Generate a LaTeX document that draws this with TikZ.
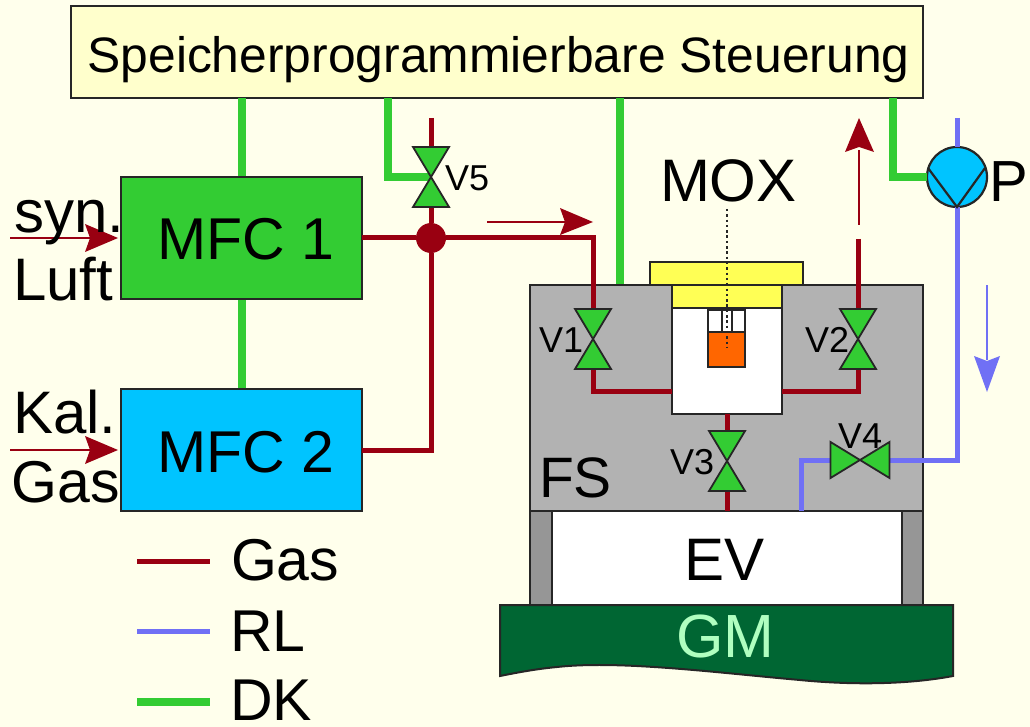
\documentclass[tikz,border=0pt]{standalone}
\usepackage{fontspec}
\setmainfont{Liberation Sans}
\usetikzlibrary{arrows.meta}
\definecolor{bgc}{HTML}{FFFFEC}
\definecolor{plc}{HTML}{FFFFCC}
\definecolor{dkc}{HTML}{33CC33}
\definecolor{gasc}{HTML}{990011}
\definecolor{rlc}{HTML}{7070F5}
\definecolor{cyanc}{HTML}{00C4FF}
\definecolor{fsc}{HTML}{B2B2B2}
\definecolor{pillarc}{HTML}{969696}
\definecolor{yelc}{HTML}{FFFF55}
\definecolor{orc}{HTML}{FF6600}
\definecolor{gmc}{HTML}{006633}
\definecolor{gmt}{HTML}{B0FFC0}
\newcommand{\fs}[1]{\fontsize{#1}{#1}\selectfont}
\tikzset{
  blockbox/.style={draw=black!85,line width=2.2pt,inner sep=0pt,outer sep=0pt,rectangle},
  valvebox/.style={rectangle,inner sep=0pt,outer sep=0pt,minimum width=36pt,minimum height=60pt},
  valvehbox/.style={rectangle,inner sep=0pt,outer sep=0pt,minimum width=59pt,minimum height=36pt},
  valveshape/.style={draw=black!85,line width=1.8pt,fill=dkc,line join=miter},
  gasline/.style={draw=gasc,line width=5pt},
  rlline/.style={draw=rlc,line width=5pt},
  dkline/.style={draw=dkc,line width=7.5pt},
  flowgas/.style={draw=gasc,line width=2.5pt},
  lab/.style={inner sep=0pt,outer sep=0pt,anchor=base west,text=black},
  big/.style={lab,font=\fs{59}},
  mid/.style={lab,font=\fs{60}},
  small/.style={lab,font=\fs{36}},
  gastip/.style={fill=gasc,draw=none},
}
\begin{document}
\begin{tikzpicture}[x=1pt,y=-1pt]
\useasboundingbox (0,0) rectangle (1030,727);
\fill[bgc] (0,0) rectangle (1030,727);

% named anchors for the blocks
\node[blockbox,fill=plc,minimum width=852pt,minimum height=92pt] (plc) at (497,52) {};
\node[font=\fs{49.8},inner sep=0pt,anchor=base] (plctext) at (498.5,73) {Speicherprogrammierbare Steuerung};

% DK lines
\coordinate (mfcA) at (242,177);
\coordinate (mfcB) at (242,299);
\coordinate (mfcC) at (242,389);
\coordinate (plcA) at (242,98);
\coordinate (plcV) at (388,98);
\coordinate (plcF) at (620,98);
\coordinate (fsTop) at (620,285);
\coordinate (plcP) at (893,98);

% blocks below the connectors
\draw[dkline] (plcA) -- (mfcA);
\draw[dkline] (mfcB) -- (mfcC);
\draw[dkline] (plcF) -- (fsTop);

\node[blockbox,fill=fsc,minimum width=393pt,minimum height=226pt] (fs) at (726.5,398) {};
\node[blockbox,fill=white,minimum width=393pt,minimum height=94pt] (ev) at (726.5,558) {};
\fill[pillarc] (530,511) rectangle (552,605);
\fill[pillarc] (902,511) rectangle (923,605);
\draw[black!85,line width=2.2pt] (530,511) rectangle (552,605);
\draw[black!85,line width=2.2pt] (902,511) rectangle (923,605);

% GM
\draw[draw=black!85,line width=2pt,fill=gmc] (500,605) -- (953,605) -- (953,676)
  .. controls (900,686) and (840,684) .. (800,680)
  .. controls (720,673) and (620,660) .. (557,667)
  .. controls (535,669) and (515,673) .. (500,676) -- cycle;
\node[lab,font=\fs{61},text=gmt] (gmtext) at (676,657) {GM};

% chamber
\node[blockbox,fill=yelc,minimum width=153pt,minimum height=23pt] (lid) at (726.5,273.5) {};
\node[blockbox,fill=yelc,minimum width=110pt,minimum height=23pt] (lid2) at (727,296.5) {};
\node[blockbox,fill=white,minimum width=110pt,minimum height=106pt] (chamber) at (727,361) {};
\node[blockbox,fill=white,minimum width=37pt,minimum height=57pt] (tube) at (726.5,338.5) {};
\node[blockbox,fill=orc,minimum width=37pt,minimum height=35pt] (sensor) at (726.5,349.5) {};
\node[blockbox,line width=1.2pt,fill=white,minimum width=10pt,minimum height=22pt] (inner) at (727,321) {};
\coordinate (moxA) at (727,209);
\coordinate (moxB) at (727,347);
\draw[black!85,line width=2.8pt,dash pattern=on 2.5pt off 2.8pt] (moxA) -- (moxB);

% valves
\node[valvebox] (V1) at (593,339) {};
\node[valvebox] (V2) at (858,339) {};
\node[valvebox] (V3) at (727,461) {};
\node[valvebox] (V5) at (431,177) {};
\node[valvehbox] (V4) at (860,460) {};
\node[circle,fill=gasc,minimum size=30pt,inner sep=0pt,outer sep=0pt] (junction) at (431,238) {};
\node[circle,draw=black!85,line width=2.2pt,fill=cyanc,minimum size=60pt,inner sep=0pt,outer sep=0pt] (P) at (957,177) {};

% MFC
\node[blockbox,fill=dkc,minimum width=241pt,minimum height=122pt] (mfc1) at (241.5,238) {};
\node[blockbox,fill=cyanc,minimum width=241pt,minimum height=122pt] (mfc2) at (241.5,450) {};

% gas lines
\coordinate (v5top) at (431,118);
\coordinate (corner1) at (593,238);
\coordinate (v1l) at (593,391);
\coordinate (v2r) at (858,391);
\coordinate (v2stub) at (858,239);
\draw[gasline] (mfc1.east) -- (junction) -- (corner1) -- (V1.north);
\draw[gasline] (mfc2.east) -- (431,450) -- (junction);
\draw[gasline] (junction) -- (V5.south);
\draw[gasline] (v5top) -- (V5.north);
\draw[gasline] (V1.south) -- (v1l) -- (chamber.west |- v1l);
\draw[gasline] (v2stub) -- (V2.north);
\draw[gasline] (V2.south) -- (v2r) -- (chamber.east |- v2r);
\draw[gasline] (chamber.south) -- (V3.north);
\draw[gasline] (V3.south) -- (ev.north -| V3);

% RL lines
\coordinate (ptop) at (957,118);
\coordinate (v4r) at (957,460);
\coordinate (v4l) at (801,460);
\draw[rlline] (ptop) -- (P.north);
\draw[rlline] (P.south) -- (v4r) -- (V4.east);
\draw[rlline] (V4.west) -- (v4l) -- (ev.north -| v4l);

% control lines
\coordinate (c5) at (388,177);
\coordinate (cp) at (893,177);
\draw[dkline] (plcV) -- (c5) -- (V5.center);
\draw[dkline] (plcP) -- (cp) -- (P.west);

% valve bow-ties
\foreach \v in {V1,V2,V3,V5}
  \draw[valveshape] (\v.north west) -- (\v.north east) -- (\v.south west) -- (\v.south east) -- cycle;
\draw[valveshape] (V4.north west) -- (V4.south west) -- (V4.north east) -- (V4.south east) -- cycle;

% pump symbol
\draw[black!85,line width=2.2pt] (928,168) -- (P.south) -- (985,168);

% flow arrows
\coordinate (a1s) at (10,238); \coordinate (a1e) at (90,238);
\coordinate (a2s) at (10,450); \coordinate (a2e) at (90,450);
\coordinate (a3s) at (487,222); \coordinate (a3e) at (565,222);
\coordinate (a4s) at (859,225); \coordinate (a4e) at (859,150);
\coordinate (a5s) at (987,285); \coordinate (a5e) at (987,360);
\draw[flowgas] (a1s) -- (a1e);
\draw[flowgas] (a2s) -- (a2e);
\draw[flowgas] (a3s) -- (a3e);
\draw[flowgas] (a4s) -- (a4e);
\draw[draw=rlc,line width=2.5pt] (a5s) -- (a5e);
\fill[gastip] (118,238) -- (85,224) -- (90,238) -- (85,252) -- cycle;
\fill[gastip] (118,450) -- (85,436) -- (90,450) -- (85,464) -- cycle;
\fill[gastip] (593,222) -- (560,208) -- (565,222) -- (560,235) -- cycle;
\fill[gastip] (859,118) -- (845,152) -- (859,147) -- (874,152) -- cycle;
\fill[rlc] (987,392) -- (974,356) -- (987,361) -- (1000,356) -- cycle;

% texts
\node[big] (t1) at (157,260) {MFC 1};
\node[big] (t2) at (157,472) {MFC 2};
\node[mid] (t3) at (14,233) {syn.};
\node[mid] (t4) at (13,300) {Luft};
\node[mid] (t5) at (13,433) {Kal.};
\node[lab,font=\fs{59}] (t6) at (12,502) {Gas};
\node[lab,font=\fs{60}] (t7) at (660,202) {MOX};
\node[lab,font=\fs{58}] (t8) at (989,202) {P};
\node[lab,font=\fs{57}] (t9) at (539,497) {FS};
\node[lab,font=\fs{60}] (t10) at (684,580) {EV};
\node[small] (v1t) at (539,352) {V1};
\node[small] (v2t) at (805,352) {V2};
\node[small] (v3t) at (670,474) {V3};
\node[small] (v4t) at (838,448) {V4};
\node[small] (v5t) at (445,191) {V5};

% legend
\coordinate (la) at (137,561); \coordinate (lb) at (210,561);
\coordinate (lc) at (137,631); \coordinate (ld) at (210,631);
\coordinate (le) at (137,702); \coordinate (lf) at (210,702);
\draw[gasline] (la) -- (lb);
\draw[rlline] (lc) -- (ld);
\draw[dkline] (le) -- (lf);
\node[lab,font=\fs{59}] (l1) at (231,580) {Gas};
\node[lab,font=\fs{59}] (l2) at (230,651) {RL};
\node[lab,font=\fs{59}] (l3) at (230,720) {DK};
\end{tikzpicture}
\end{document}
